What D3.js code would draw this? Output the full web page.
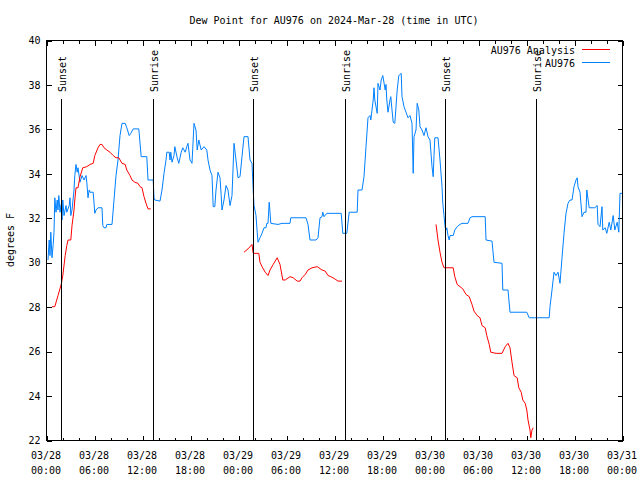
<!DOCTYPE html>
<html><head><meta charset="utf-8">
<script src="https://cdn.jsdelivr.net/npm/d3@7"></script>
<style>
body{margin:0;background:#fff;}
svg{display:block;}
text{font-family:"DejaVu Sans Mono",monospace;font-size:10px;fill:#000;}
</style></head>
<body>
<svg id="chart" width="640" height="480"></svg>
<script>
// ---- data (hours since 2024-03-28 00:00 UTC, dew point °F) ----
const startTime = "2024-03-28T00:00:00Z";
const endTime = "2024-03-31T00:00:00Z";
const titleText = "Dew Point for AU976 on 2024-Mar-28 (time in UTC)";
const yLabel = "degrees F";
const yTicks = [22,24,26,28,30,32,34,36,38,40];
const seriesNames = ["AU976 Analysis","AU976"];

const obsHours = [0.25,0.4,0.5,0.6,0.75,0.9,1.0,1.1,1.25,1.4,1.5,1.6,1.75,1.9,2.0,2.1,2.25,2.5,2.6,2.9,3.0,3.1,3.25,3.5,3.6,3.75,3.9,4.0,4.25,4.5,4.75,5.0,5.1,5.25,5.4,5.5,5.9,6.1,6.25,6.5,7.0,7.1,7.25,7.5,7.6,8.25,8.5,8.75,9.0,9.25,9.5,9.9,10.1,10.4,10.6,10.9,11.6,11.9,12.6,12.75,13.4,13.5,13.6,14.25,14.5,14.75,15.0,15.1,15.4,15.5,15.6,15.75,16.0,16.1,16.4,16.6,16.9,17.1,17.4,17.6,17.75,18.0,18.25,18.5,18.75,18.9,19.1,19.4,19.75,20.1,20.25,20.5,20.75,20.9,21.1,21.25,21.5,21.75,21.9,22.0,22.25,22.5,22.75,23.0,23.25,23.5,23.75,24.0,24.25,24.5,24.75,25.25,25.5,25.75,25.9,26.0,26.25,26.4,26.5,26.75,27.0,27.25,27.5,27.6,27.75,27.9,28.0,28.1,29.0,29.5,30.5,30.6,32.5,32.75,33.0,33.75,34.0,34.25,34.5,34.6,34.75,35.1,36.9,37.1,37.6,37.9,38.9,39.0,39.5,39.75,40.0,40.25,40.5,40.6,40.9,41.0,41.1,41.4,41.5,41.75,41.9,42.1,42.4,42.5,42.6,42.75,43.0,43.1,43.25,43.4,43.6,43.9,44.1,44.4,44.5,44.75,45.0,45.25,45.5,45.75,45.9,46.0,46.25,46.4,46.6,46.75,47.0,47.25,47.5,47.75,48.0,48.25,48.4,48.5,48.6,49.0,49.25,49.5,49.6,49.75,49.9,50.0,50.1,50.25,50.4,50.5,50.9,51.1,51.4,51.75,52.0,52.75,53.0,53.25,54.9,55.0,55.75,56.0,57.0,57.1,57.75,58.0,60.1,60.4,62.9,63.0,63.25,63.5,63.75,64.0,64.25,64.5,64.75,65.0,65.25,65.5,65.75,66.0,66.25,66.4,66.5,66.75,67.0,67.25,67.5,67.6,67.9,68.6,68.9,69.0,69.25,69.5,69.6,69.9,70.1,70.4,70.6,70.9,71.1,71.4,71.6,71.75,72.0];
const obsValues = [30.1,31.0,30.3,31.35,30.2,30.8,31.35,32.9,32.25,32.8,32.35,33.0,32.25,32.6,31.9,32.8,32.1,32.55,32.25,32.55,32.9,32.1,32.35,33.25,33.9,34.4,34.05,34.25,33.6,33.9,33.7,33.9,33.6,32.9,33.25,33.15,33.15,32.2,32.35,32.45,32.45,31.65,31.55,31.55,31.7,31.7,32.8,33.9,34.6,35.7,36.25,36.25,36.05,35.7,35.8,36.0,36.0,34.75,34.75,33.7,33.7,32.9,32.8,32.75,33.25,34.0,34.6,34.95,34.95,34.6,34.95,34.5,34.8,35.2,34.7,34.45,34.95,35.15,34.95,35.2,35.35,34.6,34.45,36.25,35.95,35.05,35.5,35.05,35.2,35.05,34.6,34.15,33.9,32.5,32.5,33.25,34.05,33.8,33.0,32.35,32.8,33.45,33.25,32.55,33.0,35.35,34.6,33.8,33.85,34.75,35.65,35.65,34.6,34.45,33.25,32.55,32.1,31.35,30.9,31.1,31.3,31.55,31.55,31.75,31.75,32.7,32.25,31.75,31.7,31.75,31.75,32.0,32.0,31.7,31.0,31.0,31.1,32.0,32.05,32.25,32.05,32.2,32.2,31.3,31.3,32.25,32.25,33.25,33.25,33.85,35.2,36.5,36.6,36.4,37.3,37.85,37.3,36.7,38.05,37.75,38.2,38.4,37.75,38.0,37.3,36.75,37.3,37.45,36.85,36.3,36.25,37.75,38.4,38.5,37.45,37.0,36.75,36.5,36.6,36.25,34.0,35.65,35.95,37.15,36.85,36.1,35.95,35.7,36.05,35.65,35.5,34.3,33.85,34.8,35.6,35.6,34.6,33.4,32.65,32.1,31.55,31.45,31.55,31.2,31.0,31.2,31.2,31.45,31.6,31.7,31.75,31.75,32.0,32.05,32.05,31.0,30.95,30.0,29.95,28.75,28.75,27.75,27.75,27.5,27.5,28.0,28.75,29.55,29.4,29.55,29.05,30.2,31.3,32.2,32.65,32.8,32.8,33.4,33.7,33.8,33.4,33.15,32.05,32.25,32.25,33.25,32.45,32.45,32.55,31.7,31.6,32.5,31.45,31.55,31.3,31.8,31.45,32.1,31.45,31.8,31.35,33.1,33.1];

// analysis runs (three separate segments)
const anaHours1 = [0.75,1.1,1.5,1.9,2.1,2.4,2.6,2.75,3.1,3.25,3.5,3.6,3.75,4.0,4.25,4.6,5.1,5.5,5.9,6.1,6.5,6.75,7.0,7.25,7.6,8.0,8.4,8.75,9.1,9.5,9.9,10.1,10.5,10.75,11.1,11.5,11.75,12.0,12.25,12.5,12.75,13.1];
const anaValues1 = [28.0,28.0,28.5,29.0,29.4,30.3,30.75,31.0,31.0,31.65,32.35,32.8,33.35,33.35,33.85,34.25,34.3,34.4,34.45,34.8,35.15,35.3,35.3,35.15,35.05,34.95,34.8,34.7,34.7,34.45,34.4,34.15,33.9,33.7,33.6,33.55,33.4,33.35,32.95,32.65,32.4,32.4];
const anaHours2 = [24.75,25.25,25.75,25.9,26.6,26.75,27.0,27.4,27.75,28.0,28.4,28.9,29.25,29.6,29.9,30.5,30.9,31.4,31.75,32.0,32.4,32.75,33.25,33.9,34.5,34.9,35.25,35.6,36.1,36.5,37.0];
const anaValues2 = [30.45,30.6,30.8,30.4,30.4,30.0,29.8,29.55,29.4,29.65,29.9,30.2,29.9,29.2,29.2,29.35,29.3,29.15,29.15,29.3,29.45,29.65,29.75,29.8,29.65,29.6,29.4,29.35,29.25,29.15,29.15];
const anaHours3 = [48.75,49.0,49.25,49.5,49.75,50.9,51.1,51.4,51.75,52.1,52.5,52.9,53.25,53.5,53.9,54.25,54.5,54.9,55.1,55.4,55.6,56.25,57.0,57.4,57.75,58.0,58.25,58.5,58.9,59.1,59.4,59.6,59.9,60.1,60.25,60.5,60.6,60.75,60.9];
const anaValues3 = [31.7,31.0,30.45,30.0,29.75,29.75,29.35,29.0,28.9,28.8,28.55,28.45,28.1,27.8,27.6,27.5,27.15,27.05,26.7,26.3,25.95,25.9,25.9,26.2,26.35,26.15,25.5,24.9,24.8,24.35,24.15,23.8,23.65,23.35,22.9,22.45,22.1,22.45,22.55];

const sunEvents = ["Sunset","Sunrise","Sunset","Sunrise","Sunset","Sunrise"];
const sunTimes = ["2024-03-28T01:56:00Z","2024-03-28T13:24:00Z","2024-03-29T01:54:00Z","2024-03-29T13:24:00Z","2024-03-30T01:53:00Z","2024-03-30T13:15:00Z"];

// ---- drawing ----
const W=640,H=480;
const L=46,R=622,T=40,B=440;
const svg=d3.select("#chart");
const t0=new Date(startTime), t1=new Date(endTime);
const hr=h=>new Date(t0.getTime()+h*3600000);
const x=d3.scaleUtc().domain([t0,t1]).range([L,R]);
const y=d3.scaleLinear().domain([22,40]).range([B,T]);

const colRed="#ff0000", colBlue="#0080ff";

// title
svg.append("text").attr("x",(L+R)/2).attr("y",24).attr("text-anchor","middle").text(titleText);
// y label
svg.append("text").attr("transform","translate(14,240) rotate(-90)").attr("text-anchor","middle").text(yLabel);

const g=svg.append("g").attr("transform","translate(0.5,0.5)");

// y axes (left and right, ticks inward)
const yAxL=d3.axisLeft(y).tickValues(yTicks).tickSize(-5).tickPadding(6).tickFormat(d3.format("d"));
const gyl=g.append("g").attr("transform",`translate(${L},0)`).call(yAxL);
const yAxR=d3.axisRight(y).tickValues(yTicks).tickSize(-5).tickFormat("");
const gyr=g.append("g").attr("transform",`translate(${R},0)`).call(yAxR);

// x axes: major every 6h, minor every 2h
const majorTicks=d3.utcHour.every(6).range(t0,new Date(t1.getTime()+1));
const minorTicks=d3.utcHour.every(2).range(t0,new Date(t1.getTime()+1)).filter(d=>d.getUTCHours()%6!==0);
const fmtD=d3.utcFormat("%m/%d"), fmtT=d3.utcFormat("%H:%M");
g.append("g").attr("transform",`translate(0,${B})`).call(d3.axisBottom(x).tickValues(majorTicks).tickSize(-5).tickFormat(""));
g.append("g").attr("transform",`translate(0,${B})`).call(d3.axisBottom(x).tickValues(minorTicks).tickSize(-3).tickFormat(""));
g.append("g").attr("transform",`translate(0,${T})`).call(d3.axisTop(x).tickValues(majorTicks).tickSize(-5).tickFormat(""));
g.append("g").attr("transform",`translate(0,${T})`).call(d3.axisTop(x).tickValues(minorTicks).tickSize(-3).tickFormat(""));
g.selectAll(".domain").remove();
g.selectAll(".tick line").attr("stroke","#000").attr("shape-rendering","crispEdges");
gyl.selectAll(".tick text").attr("font-family","'DejaVu Sans Mono',monospace").attr("font-size",10).attr("fill","#000").attr("dy","0.32em");

// x tick labels (two lines)
const xl=svg.append("g");
majorTicks.forEach(d=>{
  const xt=x(d);
  xl.append("text").attr("x",xt).attr("y",459).attr("text-anchor","middle").text(fmtD(d));
  xl.append("text").attr("x",xt).attr("y",474).attr("text-anchor","middle").text(fmtT(d));
});

// data lines
const line=d3.line().x(d=>x(d[0])).y(d=>y(d[1]));
svg.append("clipPath").attr("id","pc").append("rect").attr("x",L).attr("y",T).attr("width",R-L).attr("height",B-T+1);
const dg=svg.append("g").attr("clip-path","url(#pc)");
const obs=obsHours.map((h,i)=>[hr(h),obsValues[i]]);
dg.append("path").datum(obs).attr("d",line).attr("fill","none").attr("stroke",colBlue).attr("stroke-width",1);
[[anaHours1,anaValues1],[anaHours2,anaValues2],[anaHours3,anaValues3]].forEach(([hs,vs])=>{
  const pts=hs.map((h,i)=>[hr(h),vs[i]]);
  dg.append("path").datum(pts).attr("d",line).attr("fill","none").attr("stroke",colRed).attr("stroke-width",1);
});

// sunrise / sunset markers
sunTimes.forEach((s,i)=>{
  const xv=Math.round(x(new Date(s)))+0.5;
  svg.append("line").attr("x1",xv).attr("x2",xv).attr("y1",99).attr("y2",B).attr("stroke","#000").attr("stroke-width",1).attr("shape-rendering","crispEdges");
  svg.append("text").attr("transform",`translate(${xv+4},92) rotate(-90)`).attr("text-anchor","start").text(sunEvents[i]);
});

// border
svg.append("rect").attr("x",L+0.5).attr("y",T+0.5).attr("width",R-L).attr("height",B-T).attr("fill","none").attr("stroke","#000").attr("shape-rendering","crispEdges");

// legend
const legColors=[colRed,colBlue];
seriesNames.forEach((n,i)=>{
  const ly=50+i*13;
  svg.append("text").attr("x",575).attr("y",ly+3.5).attr("text-anchor","end").text(n);
  svg.append("line").attr("x1",582).attr("x2",610).attr("y1",ly-0.5).attr("y2",ly-0.5).attr("stroke",legColors[i]).attr("stroke-width",1);
});
</script>
</body></html>
